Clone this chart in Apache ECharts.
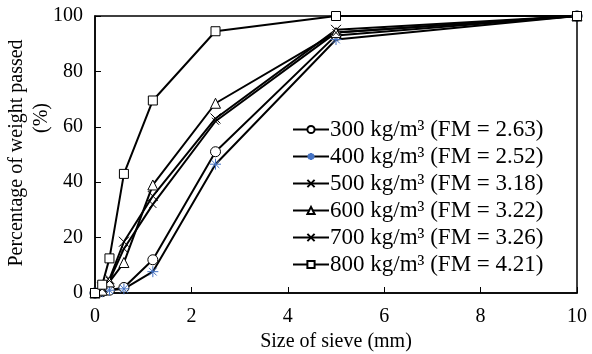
<!DOCTYPE html>
<html>
<head>
<meta charset="utf-8">
<script src="https://cdn.jsdelivr.net/npm/echarts@6/dist/echarts.min.js"></script>
<style>
  html, body { margin: 0; padding: 0; background: #fff; }
  #chart { width: 592px; height: 354px; }
</style>
</head>
<body>
<div id="chart"></div>
<script>
// sieve sizes (mm)
var sieveSizes = [0, 0.15, 0.3, 0.6, 1.2, 2.5, 5, 10];
// percentage passed per density
var pass300 = [0, 0.5, 1, 2, 12, 51, 93, 100];
var pass400 = [0, 0.5, 1, 1.5, 7.7, 46.5, 91.5, 100];
var pass500 = [0, 2, 5, 18.5, 35, 63, 95, 100];
var pass600 = [0, 1, 4, 11, 39, 68.5, 94, 100];
var pass700 = [0, 1.5, 4.5, 16, 32, 62, 94, 100];
var pass800 = [0, 3, 12.5, 43, 69.5, 94.5, 100, 100];
var seriesNames = [
  "300 kg/m³ (FM = 2.63)",
  "400 kg/m³ (FM = 2.52)",
  "500 kg/m³ (FM = 3.18)",
  "600 kg/m³ (FM = 3.22)",
  "700 kg/m³ (FM = 3.26)",
  "800 kg/m³ (FM = 4.21)"
];

var crossPath = "path://M0,0L10,10M10,0L0,10";
var starPath = "path://M5,0L5,10M0,5L10,5M1.5,1.5L8.5,8.5M8.5,1.5L1.5,8.5";

function pairs(vals) {
  return sieveSizes.map(function (x, i) { return [x, vals[i]]; });
}

function makeSeries(name, vals, symbol, size, color, fill) {
  return {
    name: name,
    type: "line",
    data: pairs(vals),
    symbol: symbol,
    symbolSize: size,
    lineStyle: { color: "#000", width: 2 },
    itemStyle: { color: fill, borderColor: color, borderWidth: 1 },
    emphasis: { disabled: true }
  };
}

var chart = echarts.init(document.getElementById("chart"));
var font = "Liberation Serif";
var option = {
  animation: false,
  textStyle: { fontFamily: font },
  grid: { left: 95, right: 15, top: 16, bottom: 61, outerBoundsMode: "none", containLabel: false },
  legend: {
    orient: "vertical",
    left: 287,
    top: 113,
    itemWidth: 36,
    itemHeight: 9,
    itemGap: 4,
    textStyle: { fontFamily: font, fontSize: 23, color: "#000", padding: [0, 0, 0, -4] },
    data: seriesNames
  },
  xAxis: {
    type: "value",
    min: 0,
    max: 10,
    interval: 2,
    name: "Size of sieve (mm)",
    nameLocation: "middle",
    nameGap: 39,
    nameTextStyle: { fontFamily: font, fontSize: 20, color: "#000" },
    axisLine: { lineStyle: { color: "#000", width: 1.5 } },
    axisTick: { inside: true, length: 6, lineStyle: { color: "#000" } },
    axisLabel: { fontFamily: font, fontSize: 20, color: "#000", margin: 14 },
    splitLine: { show: false }
  },
  yAxis: {
    type: "value",
    min: 0,
    max: 100,
    interval: 20,
    axisLine: { lineStyle: { color: "#000", width: 1.5 } },
    axisTick: { inside: true, length: 6, lineStyle: { color: "#000" } },
    axisLabel: { fontFamily: font, fontSize: 20, color: "#000", margin: 12 },
    splitLine: { show: false }
  },
  graphic: [
    {
      type: "rect",
      shape: { x: 95, y: 16, width: 482, height: 277 },
      style: { fill: "none", stroke: "#000", lineWidth: 1.5 },
      silent: true
    },
    {
      type: "text",
      x: 17, y: 153, rotation: Math.PI / 2,
      style: { text: "Percentage of weight passed", font: "20px 'Liberation Serif'", fill: "#000", align: "center", verticalAlign: "middle" }
    },
    {
      type: "text",
      x: 42, y: 118, rotation: Math.PI / 2,
      style: { text: "(%)", font: "20px 'Liberation Serif'", fill: "#000", align: "center", verticalAlign: "middle" }
    }
  ],
  series: [
    makeSeries(seriesNames[0], pass300, "circle", 10, "#000", "#fff"),
    makeSeries(seriesNames[1], pass400, starPath, 11, "#4472c4", "rgba(0,0,0,0)"),
    makeSeries(seriesNames[2], pass500, crossPath, 10, "#000", "rgba(0,0,0,0)"),
    makeSeries(seriesNames[3], pass600, "triangle", 10, "#000", "#fff"),
    makeSeries(seriesNames[4], pass700, crossPath, 7, "#000", "rgba(0,0,0,0)"),
    makeSeries(seriesNames[5], pass800, "rect", 9, "#000", "#fff")
  ]
};
chart.setOption(option);
</script>
</body>
</html>
